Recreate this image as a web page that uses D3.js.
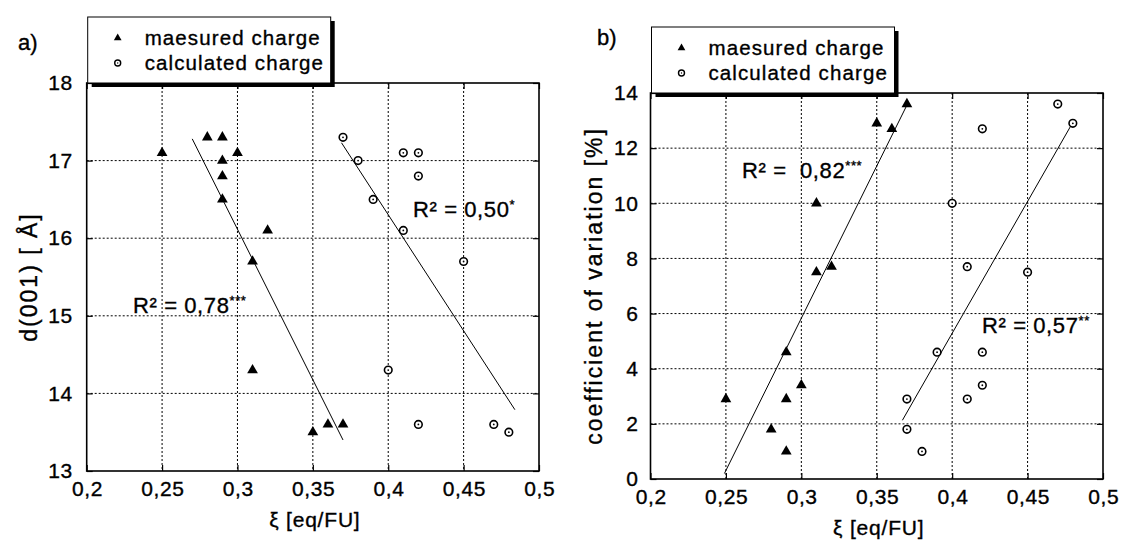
<!DOCTYPE html>
<html><head><meta charset="utf-8">
<script src="https://cdn.jsdelivr.net/npm/d3@7"></script>
<style>
body{margin:0;background:#fff;}
svg text{font-family:"Liberation Sans",Arial,sans-serif;fill:#000;white-space:pre;stroke:#000;stroke-width:0.35px;}
</style></head>
<body><svg id="c" width="1121" height="544"></svg>
<script>
// ---------- data ----------
const xTicks = [0.2,0.25,0.3,0.35,0.4,0.45,0.5];
const yTicksA = [13,14,15,16,17,18];
const yTicksB = [0,2,4,6,8,10,12,14];

// chart a: d(001) [Å]
const measAx = [0.25,0.28,0.29,0.30,0.29,0.29,0.29,0.32,0.31,0.31,0.35,0.36,0.37];
const measAy = [17.1,17.3,17.3,17.1,17.0,16.8,16.5,16.1,15.7,14.3,13.5,13.6,13.6];
const calcAx = [0.37,0.38,0.41,0.42,0.42,0.39,0.41,0.45,0.40,0.42,0.47,0.48];
const calcAy = [17.3,17.0,17.1,17.1,16.8,16.5,16.1,15.7,14.3,13.6,13.6,13.5];
const fitMeasA = [[0.27,17.28],[0.37,13.40]];
const fitCalcA = [[0.369,17.23],[0.484,13.79]];

// chart b: coefficient of variation [%]
const measBx = [0.25,0.29,0.30,0.29,0.28,0.29,0.31,0.31,0.32,0.35,0.36,0.37];
const measBy = [2.9,4.6,3.4,2.9,1.8,1.0,10.0,7.5,7.7,12.9,12.7,13.6];
const calcBx = [0.47,0.48,0.42,0.40,0.41,0.45,0.39,0.42,0.42,0.37,0.41,0.37,0.38];
const calcBy = [13.6,12.9,12.7,10.0,7.7,7.5,4.6,4.6,3.4,2.9,2.9,1.8,1.0];
const fitMeasB = [[0.249,0.2],[0.371,13.67]];
const fitCalcB = [[0.367,2.13],[0.479,12.84]];

const legendLabels = ["maesured charge","calculated charge"];

// ---------- drawing ----------
const svg = d3.select("#c");
const fmt = d => String(d).replace(".", ",");

function panel(o){
  const g = svg.append("g");
  const x = d3.scaleLinear().domain([0.2,0.5]).range([o.left,o.right]);
  const y = d3.scaleLinear().domain(o.ydom).range([o.bottom,o.top]);

  // grid
  g.append("g").selectAll("line").data(xTicks.slice(1,-1)).join("line")
    .attr("x1",d=>x(d)).attr("x2",d=>x(d)).attr("y1",o.top).attr("y2",o.bottom)
    .attr("stroke","#000").attr("stroke-width",1).attr("stroke-dasharray","2,2");
  g.append("g").selectAll("line").data(o.yticks.slice(1,-1)).join("line")
    .attr("y1",d=>y(d)).attr("y2",d=>y(d)).attr("x1",o.left).attr("x2",o.right)
    .attr("stroke","#000").attr("stroke-width",1).attr("stroke-dasharray","2,2");

  // axes with inward ticks on all sides
  const tk = 6;
  g.append("g").attr("transform",`translate(0,${o.bottom})`)
    .call(d3.axisBottom(x).tickValues(xTicks).tickSizeInner(-tk).tickSizeOuter(0).tickPadding(10).tickFormat(fmt))
    .call(a=>a.select(".domain").remove())
    .call(a=>a.selectAll("text").attr("font-size",21).attr("letter-spacing","0.6px").attr("dx","0.3"));
  g.append("g").attr("transform",`translate(0,${o.top})`)
    .call(d3.axisTop(x).tickValues(xTicks).tickSizeInner(-tk).tickSizeOuter(0).tickFormat(""))
    .call(a=>a.select(".domain").remove());
  g.append("g").attr("transform",`translate(${o.left},0)`)
    .call(d3.axisLeft(y).tickValues(o.yticks).tickSizeInner(-tk).tickSizeOuter(0).tickPadding(o.ypad).tickFormat(fmt))
    .call(a=>a.select(".domain").remove())
    .call(a=>a.selectAll("text").attr("font-size",21).attr("letter-spacing","0.6px"));
  g.append("g").attr("transform",`translate(${o.right},0)`)
    .call(d3.axisRight(y).tickValues(o.yticks).tickSizeInner(-tk).tickSizeOuter(0).tickFormat(""))
    .call(a=>a.select(".domain").remove());
  g.selectAll(".tick line").attr("stroke","#000").attr("stroke-width",1.2);
  g.selectAll(".tick text").attr("fill","#000").attr("font-family","'Liberation Sans',Arial,sans-serif");

  // frame
  g.append("rect").attr("x",o.left).attr("y",o.top).attr("width",o.right-o.left).attr("height",o.bottom-o.top)
    .attr("fill","none").attr("stroke","#000").attr("stroke-width",1.6);

  // fit lines
  const line = d3.line().x(d=>x(d[0])).y(d=>y(d[1]));
  [o.fit1,o.fit2].forEach(f=>{
    g.append("path").attr("d",line(f)).attr("fill","none").attr("stroke","#000").attr("stroke-width",1);
  });

  // markers
  const tri = d3.symbol(d3.symbolTriangle,50);
  g.append("g").selectAll("path").data(o.mx.map((v,i)=>[v,o.my[i]])).join("path")
    .attr("d",tri).attr("transform",d=>`translate(${x(d[0])},${y(d[1])})`).attr("fill","#000");
  const cg = g.append("g").selectAll("g").data(o.cx.map((v,i)=>[v,o.cy[i]])).join("g")
    .attr("transform",d=>`translate(${x(d[0])},${y(d[1])})`);
  cg.append("circle").attr("r",3.8).attr("fill","#fff").attr("stroke","#000").attr("stroke-width",1.6);
  cg.append("circle").attr("r",0.9).attr("fill","#000");

  // R² labels
  o.r2.forEach(r=>{
    const t = g.append("text").attr("x",r.x).attr("y",r.y).attr("font-size",22).attr("letter-spacing","0.6px");
    t.append("tspan").text(r.t);
    t.append("tspan").attr("font-size",13).attr("dy",-8).text(r.s);
  });

  // axis titles
  g.append("text").attr("x",(o.left+o.right)/2+2).attr("y",o.bottom+56).attr("text-anchor","middle")
    .attr("font-size",21).attr("letter-spacing","0.8px").text("ξ [eq/FU]");
  g.append("text").attr("transform",`translate(${o.ytx},${(o.top+o.bottom)/2}) rotate(-90)`)
    .attr("text-anchor","middle").attr("font-size",23).attr("letter-spacing","2px").text(o.ytitle);

  // panel letter
  g.append("text").attr("x",o.lx).attr("y",o.ly).attr("font-size",22).text(o.letter);

  // legend
  const lw = 243, lh = 66, lx = o.left+1, ly = o.top-lh;
  g.append("rect").attr("x",lx+4).attr("y",ly+4).attr("width",lw).attr("height",lh).attr("fill","#000");
  g.append("rect").attr("x",lx).attr("y",ly).attr("width",lw).attr("height",lh).attr("fill","#fff").attr("stroke","#000").attr("stroke-width",1);
  const tri2 = d3.symbol(d3.symbolTriangle,26);
  g.append("path").attr("d",tri2).attr("transform",`translate(${lx+30},${ly+21})`).attr("fill","#000");
  g.append("circle").attr("cx",lx+30).attr("cy",ly+46).attr("r",3).attr("fill","#fff").attr("stroke","#000").attr("stroke-width",1.4);
  g.append("circle").attr("cx",lx+30).attr("cy",ly+46).attr("r",0.7).attr("fill","#000");
  legendLabels.forEach((s,i)=>{
    g.append("text").attr("x",lx+57).attr("y",ly+28+i*25).attr("font-size",20.5).attr("letter-spacing","1.1px").text(s);
  });
}

panel({left:86.7,right:539,top:83,bottom:471,ydom:[13,18],yticks:yTicksA,ypad:14,
  mx:measAx,my:measAy,cx:calcAx,cy:calcAy,fit1:fitMeasA,fit2:fitCalcA,
  r2:[{x:413,y:217,t:"R² = 0,50",s:"*"},{x:133,y:313,t:"R² = 0,78",s:"***"}],
  ytitle:"d(001) [ Å]",ytx:37,letter:"a)",lx:18,ly:50});
panel({left:650.5,right:1103,top:93,bottom:479,ydom:[0,14],yticks:yTicksB,ypad:12,
  mx:measBx,my:measBy,cx:calcBx,cy:calcBy,fit1:fitMeasB,fit2:fitCalcB,
  r2:[{x:742,y:178,t:"R² =  0,82",s:"***"},{x:982,y:333,t:"R² = 0,57",s:"**"}],
  ytitle:"coefficient of variation [%]",ytx:602,letter:"b)",lx:597,ly:45});
</script></body></html>
